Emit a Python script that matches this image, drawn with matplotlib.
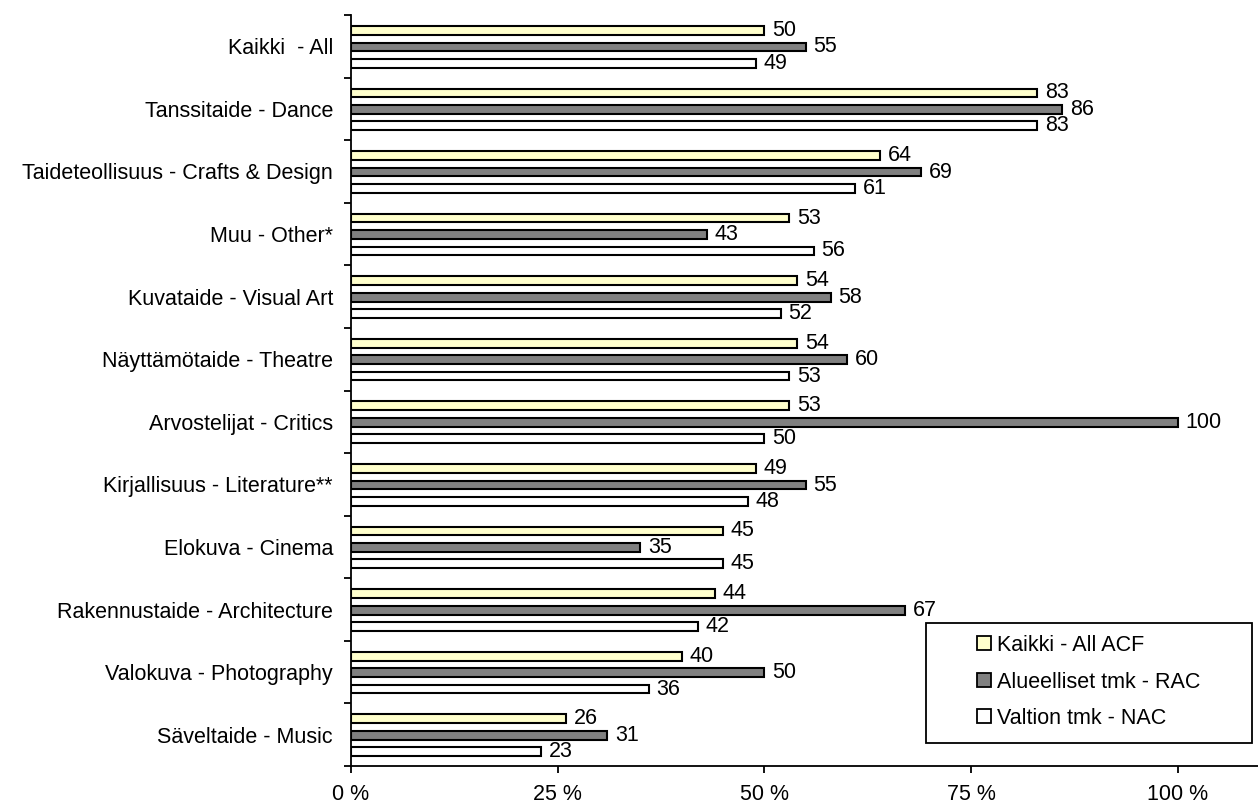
import matplotlib
matplotlib.use("Agg")
import matplotlib.pyplot as plt
from matplotlib.patches import Patch, Rectangle
import numpy as np

plt.rcParams["font.family"] = ["Liberation Sans", "DejaVu Sans"]

categories = [
    "Kaikki  - All",
    "Tanssitaide - Dance",
    "Taideteollisuus - Crafts & Design",
    "Muu - Other*",
    "Kuvataide - Visual Art",
    "Näyttämötaide - Theatre",
    "Arvostelijat - Critics",
    "Kirjallisuus - Literature**",
    "Elokuva - Cinema",
    "Rakennustaide - Architecture",
    "Valokuva - Photography",
    "Säveltaide - Music",
]
acf = [50, 83, 64, 53, 54, 54, 53, 49, 45, 44, 40, 26]
rac = [55, 86, 69, 43, 58, 60, 100, 55, 35, 67, 50, 31]
nac = [49, 83, 61, 56, 52, 53, 50, 48, 45, 42, 36, 23]
series_names = ["Kaikki - All ACF", "Alueelliset tmk - RAC", "Valtion tmk - NAC"]
colors = ["#FFFFCC", "#808080", "#FFFFFF"]
x_ticks = [0, 25, 50, 75, 100]
x_ticklabels = ["0 %", "25 %", "50 %", "75 %", "100 %"]

W, H = 1258, 805
fig = plt.figure(figsize=(W / 100, H / 100), dpi=100)
ax = fig.add_axes([351 / W, (H - 766) / H, (W - 351) / W, (766 - 15) / H])

FS = 15.5
y = np.arange(len(categories))
offsets = [-0.255, 0.01, 0.27]
bh = 0.14
for vals, off, col in zip([acf, rac, nac], offsets, colors):
    ax.barh(y + off, vals, height=bh, color=col, edgecolor="black", linewidth=1.5)
    for yi, v in zip(y, vals):
        ax.annotate(str(v), (v, yi + off), xytext=(5.5, 0), textcoords="offset points",
                    va="center", ha="left", fontsize=FS)

ax.set_xlim(0, 109.7)
ax.set_ylim(len(categories) - 0.5, -0.5)

ax.set_yticks(y)
ax.set_yticklabels(categories, fontsize=FS)
ax.set_yticks(np.arange(len(categories) + 1) - 0.5, minor=True)
ax.tick_params(axis="y", which="major", length=0, pad=13)
ax.tick_params(axis="y", which="minor", length=5, width=1.3, direction="out")

ax.set_xticks(x_ticks)
ax.set_xticklabels(x_ticklabels, fontsize=FS)
ax.tick_params(axis="x", length=5, width=1.3, direction="out", pad=8)

for s in ("top", "right"):
    ax.spines[s].set_visible(False)
for s in ("left", "bottom"):
    ax.spines[s].set_linewidth(1.3)

# legend box
fig.patches.append(Rectangle((926 / W, (H - 743) / H), (1252 - 926) / W, (743 - 623) / H,
                             transform=fig.transFigure, facecolor="white",
                             edgecolor="black", linewidth=1.3, zorder=5))
handles = [Patch(facecolor=c, edgecolor="black", linewidth=1.3) for c in colors]
leg = fig.legend(handles, series_names, loc="center", frameon=False, fontsize=FS,
                 bbox_to_anchor=((926 + 1252) / 2 / W, (H - 682) / H),
                 handlelength=0.62, handleheight=0.62, handletextpad=0.3,
                 labelspacing=0.72, borderpad=0)
leg.set_zorder(6)

fig.savefig("out.png", dpi=100)
